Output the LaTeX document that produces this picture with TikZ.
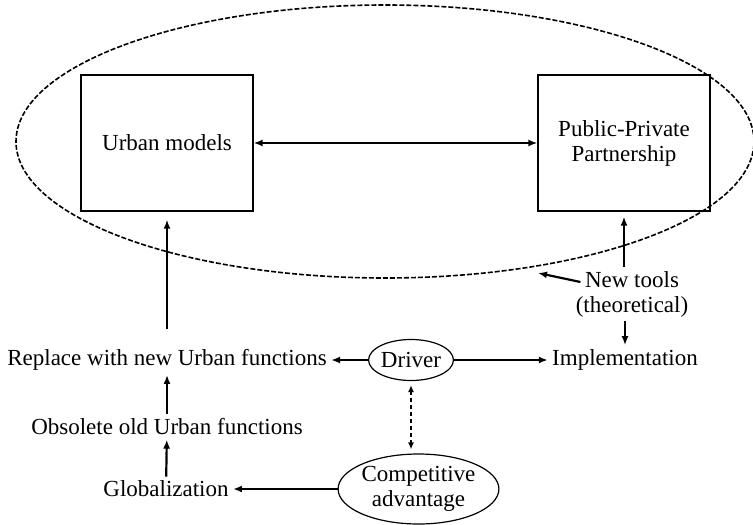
\documentclass[tikz,border=0pt]{standalone}
\usepackage{fontspec}
\setmainfont{Liberation Serif}
\usepackage{tikz}
\usetikzlibrary{arrows.meta,positioning,shapes.geometric,calc}

\begin{document}
\begin{tikzpicture}[
  x=0.5pt, y=-0.5pt,
  every node/.style={inner sep=2pt, font=\fontsize{11.5}{12.5}\selectfont},
  modelbox/.style={rectangle, draw, line width=0.6pt, minimum width=86pt, minimum height=68pt, align=center},
  oval/.style={ellipse, draw, line width=0.6pt, inner sep=0pt, align=center},
  label/.style={align=center},
  arr/.style={-{Latex[length=4.5pt,width=3.5pt]}, line width=1.1pt},
  darr/.style={{Latex[length=4.5pt,width=3.5pt]}-{Latex[length=4.5pt,width=3.5pt]}, line width=1.1pt},
  dasharr/.style={{Latex[length=3.5pt,width=3pt]}-{Latex[length=3.5pt,width=3pt]}, line width=0.7pt, dash pattern=on 2pt off 1.5pt}
]
\useasboundingbox (0,0) rectangle (753,524);

% Dashed group round the two models
\node[ellipse, draw, dashed, line width=0.8pt, dash pattern=on 2.5pt off 1pt, minimum width=369pt, minimum height=136.5pt] (group) at (385,141.5) {};

% Top: the two boxes
\node[modelbox] (urban) at (167,143) {Urban models};
\node[modelbox] (ppp) at (624,143) {Public-Private\\Partnership};
\draw[darr] (urban) -- (ppp);

% Left column
\node[label] (replace) at (167,360) {Replace with new Urban functions};
\node[label] (obsolete) at (167,427) {Obsolete old Urban functions};
\node[label] (glob) at (166,489) {Globalization};
\draw[arr, shorten <=8pt, shorten >=4pt] (replace.north) -- (urban.south);
\draw[arr] (obsolete) -- (replace);
\draw[arr] (glob) -- (obsolete);

% Drivers
\node[oval, minimum width=41pt, minimum height=20.5pt] (driver) at (411,360) {Driver};
\node[oval, minimum width=68.5pt, minimum height=35pt] (compet) at (418.5,489) {Competitive\\advantage};
\draw[arr] (driver) -- (replace);
\draw[arr] (compet) -- (glob);
\draw[dasharr, shorten <=2pt, shorten >=2pt] (driver.south) -- (driver.south |- compet.north);

% Right side
\node[label] (tools) at (632,294) {New tools\\(theoretical)};
\node[label] (impl) at (625,360) {Implementation};
\coordinate (toolsend) at (538,273);
\draw[arr] (driver) -- (impl);
\draw[arr, shorten >=2.5pt] (tools.north -| ppp.south) -- (ppp.south);
\draw[arr] (tools.south -| impl.north) -- (impl.north);
\draw[arr] ($(tools.west)+(9,-12)$) -- (toolsend);

\end{tikzpicture}
\end{document}
